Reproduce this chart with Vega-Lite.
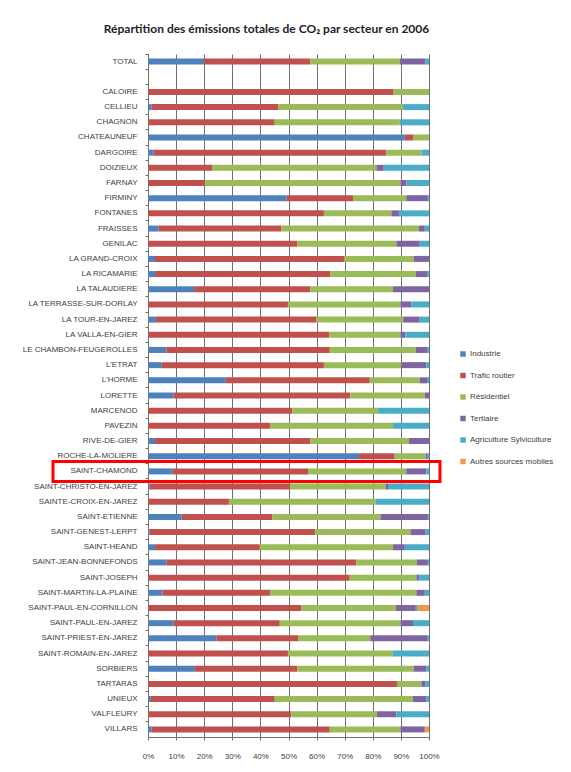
{
  "$schema": "https://vega.github.io/schema/vega-lite/v6.json",
  "autosize": {"type": "none"},
  "padding": {"left": 148, "top": 54, "right": 142, "bottom": 35},
  "width": 281,
  "height": 683,
  "background": "white",
  "title": {
    "text": "Répartition des émissions totales de CO₂ par secteur en 2006",
    "font": "Lato",
    "fontSize": 12,
    "fontWeight": "bold",
    "color": "#222222",
    "anchor": "middle",
    "frame": "group",
    "dx": -22,
    "offset": 18
  },
  "datasets": {
    "secteurs": [
      {"secteur": "Industrie", "rang": 1},
      {"secteur": "Trafic routier", "rang": 2},
      {"secteur": "Résidentiel", "rang": 3},
      {"secteur": "Tertiaire", "rang": 4},
      {"secteur": "Agriculture Sylviculture", "rang": 5},
      {"secteur": "Autres sources mobiles", "rang": 6}
    ],
    "emissions": [
      {"commune": "TOTAL", "Industrie": 20, "Trafic routier": 37.8, "Résidentiel": 31.8, "Tertiaire": 9.2, "Agriculture Sylviculture": 1.2, "Autres sources mobiles": 0},
      {"commune": "CALOIRE", "Industrie": 0, "Trafic routier": 87.2, "Résidentiel": 12.8, "Tertiaire": 0, "Agriculture Sylviculture": 0, "Autres sources mobiles": 0},
      {"commune": "CELLIEU", "Industrie": 1.3, "Trafic routier": 45, "Résidentiel": 44.5, "Tertiaire": 0, "Agriculture Sylviculture": 9.2, "Autres sources mobiles": 0},
      {"commune": "CHAGNON", "Industrie": 0, "Trafic routier": 45.1, "Résidentiel": 44.5, "Tertiaire": 0, "Agriculture Sylviculture": 10.4, "Autres sources mobiles": 0},
      {"commune": "CHATEAUNEUF", "Industrie": 91.4, "Trafic routier": 3.1, "Résidentiel": 5.5, "Tertiaire": 0, "Agriculture Sylviculture": 0, "Autres sources mobiles": 0},
      {"commune": "DARGOIRE", "Industrie": 2, "Trafic routier": 82.8, "Résidentiel": 12.5, "Tertiaire": 0, "Agriculture Sylviculture": 2.7, "Autres sources mobiles": 0},
      {"commune": "DOIZIEUX", "Industrie": 0, "Trafic routier": 23, "Résidentiel": 58.3, "Tertiaire": 2.6, "Agriculture Sylviculture": 16.1, "Autres sources mobiles": 0},
      {"commune": "FARNAY", "Industrie": 0, "Trafic routier": 20.3, "Résidentiel": 69.5, "Tertiaire": 2.2, "Agriculture Sylviculture": 8, "Autres sources mobiles": 0},
      {"commune": "FIRMINY", "Industrie": 49.3, "Trafic routier": 23.7, "Résidentiel": 18.9, "Tertiaire": 7.7, "Agriculture Sylviculture": 0.4, "Autres sources mobiles": 0},
      {"commune": "FONTANES", "Industrie": 0, "Trafic routier": 62.6, "Résidentiel": 24, "Tertiaire": 2.7, "Agriculture Sylviculture": 10.7, "Autres sources mobiles": 0},
      {"commune": "FRAISSES", "Industrie": 3.7, "Trafic routier": 43.8, "Résidentiel": 48.9, "Tertiaire": 2.1, "Agriculture Sylviculture": 1.5, "Autres sources mobiles": 0},
      {"commune": "GENILAC", "Industrie": 0, "Trafic routier": 53.1, "Résidentiel": 35.3, "Tertiaire": 8.3, "Agriculture Sylviculture": 3.3, "Autres sources mobiles": 0},
      {"commune": "LA GRAND-CROIX", "Industrie": 2.5, "Trafic routier": 67.5, "Résidentiel": 24.5, "Tertiaire": 5.5, "Agriculture Sylviculture": 0, "Autres sources mobiles": 0},
      {"commune": "LA RICAMARIE", "Industrie": 2.5, "Trafic routier": 62.4, "Résidentiel": 30.4, "Tertiaire": 4, "Agriculture Sylviculture": 0.7, "Autres sources mobiles": 0},
      {"commune": "LA TALAUDIERE", "Industrie": 16.4, "Trafic routier": 41.4, "Résidentiel": 29.4, "Tertiaire": 12.8, "Agriculture Sylviculture": 0, "Autres sources mobiles": 0},
      {"commune": "LA TERRASSE-SUR-DORLAY", "Industrie": 0, "Trafic routier": 49.8, "Résidentiel": 40, "Tertiaire": 3.9, "Agriculture Sylviculture": 6.3, "Autres sources mobiles": 0},
      {"commune": "LA TOUR-EN-JAREZ", "Industrie": 2.8, "Trafic routier": 57.2, "Résidentiel": 30.8, "Tertiaire": 5.9, "Agriculture Sylviculture": 3.3, "Autres sources mobiles": 0},
      {"commune": "LA VALLA-EN-GIER", "Industrie": 0, "Trafic routier": 64.5, "Résidentiel": 25.3, "Tertiaire": 1.8, "Agriculture Sylviculture": 8.4, "Autres sources mobiles": 0},
      {"commune": "LE CHAMBON-FEUGEROLLES", "Industrie": 6.6, "Trafic routier": 58.1, "Résidentiel": 30.6, "Tertiaire": 4, "Agriculture Sylviculture": 0.7, "Autres sources mobiles": 0},
      {"commune": "L'ETRAT", "Industrie": 4.9, "Trafic routier": 57.7, "Résidentiel": 27.6, "Tertiaire": 8.8, "Agriculture Sylviculture": 1, "Autres sources mobiles": 0},
      {"commune": "L'HORME", "Industrie": 27.7, "Trafic routier": 51.2, "Résidentiel": 17.8, "Tertiaire": 2.6, "Agriculture Sylviculture": 0.7, "Autres sources mobiles": 0},
      {"commune": "LORETTE", "Industrie": 9, "Trafic routier": 63, "Résidentiel": 26.5, "Tertiaire": 1.5, "Agriculture Sylviculture": 0, "Autres sources mobiles": 0},
      {"commune": "MARCENOD", "Industrie": 0, "Trafic routier": 51.4, "Résidentiel": 30.5, "Tertiaire": 0, "Agriculture Sylviculture": 18.1, "Autres sources mobiles": 0},
      {"commune": "PAVEZIN", "Industrie": 0, "Trafic routier": 43.4, "Résidentiel": 43.8, "Tertiaire": 0, "Agriculture Sylviculture": 12.8, "Autres sources mobiles": 0},
      {"commune": "RIVE-DE-GIER", "Industrie": 2.5, "Trafic routier": 55.3, "Résidentiel": 35.1, "Tertiaire": 7.1, "Agriculture Sylviculture": 0, "Autres sources mobiles": 0},
      {"commune": "ROCHE-LA-MOLIERE", "Industrie": 75.1, "Trafic routier": 12.7, "Résidentiel": 11, "Tertiaire": 0.5, "Agriculture Sylviculture": 0.7, "Autres sources mobiles": 0},
      {"commune": "SAINT-CHAMOND", "Industrie": 8.8, "Trafic routier": 48.2, "Résidentiel": 34.9, "Tertiaire": 7.1, "Agriculture Sylviculture": 1, "Autres sources mobiles": 0},
      {"commune": "SAINT-CHRISTO-EN-JAREZ", "Industrie": 0.5, "Trafic routier": 50, "Résidentiel": 34.1, "Tertiaire": 0.8, "Agriculture Sylviculture": 14.6, "Autres sources mobiles": 0},
      {"commune": "SAINTE-CROIX-EN-JAREZ", "Industrie": 0, "Trafic routier": 28.8, "Résidentiel": 52.2, "Tertiaire": 0, "Agriculture Sylviculture": 19, "Autres sources mobiles": 0},
      {"commune": "SAINT-ETIENNE", "Industrie": 12, "Trafic routier": 32.3, "Résidentiel": 38.4, "Tertiaire": 16.9, "Agriculture Sylviculture": 0.4, "Autres sources mobiles": 0},
      {"commune": "SAINT-GENEST-LERPT", "Industrie": 0.5, "Trafic routier": 58.9, "Résidentiel": 34, "Tertiaire": 5.4, "Agriculture Sylviculture": 1.2, "Autres sources mobiles": 0},
      {"commune": "SAINT-HEAND", "Industrie": 2.5, "Trafic routier": 37.3, "Résidentiel": 47.4, "Tertiaire": 4.2, "Agriculture Sylviculture": 8.6, "Autres sources mobiles": 0},
      {"commune": "SAINT-JEAN-BONNEFONDS", "Industrie": 6.6, "Trafic routier": 67.6, "Résidentiel": 21.5, "Tertiaire": 3.9, "Agriculture Sylviculture": 0.4, "Autres sources mobiles": 0},
      {"commune": "SAINT-JOSEPH", "Industrie": 0, "Trafic routier": 71.8, "Résidentiel": 23.7, "Tertiaire": 1, "Agriculture Sylviculture": 3.5, "Autres sources mobiles": 0},
      {"commune": "SAINT-MARTIN-LA-PLAINE", "Industrie": 5.2, "Trafic routier": 38.2, "Résidentiel": 52.1, "Tertiaire": 3, "Agriculture Sylviculture": 1.5, "Autres sources mobiles": 0},
      {"commune": "SAINT-PAUL-EN-CORNILLON", "Industrie": 0, "Trafic routier": 54.6, "Résidentiel": 33.6, "Tertiaire": 7.1, "Agriculture Sylviculture": 0.7, "Autres sources mobiles": 4},
      {"commune": "SAINT-PAUL-EN-JAREZ", "Industrie": 9, "Trafic routier": 37.9, "Résidentiel": 42.9, "Tertiaire": 4.5, "Agriculture Sylviculture": 5.7, "Autres sources mobiles": 0},
      {"commune": "SAINT-PRIEST-EN-JAREZ", "Industrie": 24.4, "Trafic routier": 29, "Résidentiel": 25.7, "Tertiaire": 20.2, "Agriculture Sylviculture": 0.7, "Autres sources mobiles": 0},
      {"commune": "SAINT-ROMAIN-EN-JAREZ", "Industrie": 0, "Trafic routier": 49.8, "Résidentiel": 37.2, "Tertiaire": 0, "Agriculture Sylviculture": 13, "Autres sources mobiles": 0},
      {"commune": "SORBIERS", "Industrie": 16.7, "Trafic routier": 36.4, "Résidentiel": 41.4, "Tertiaire": 4.5, "Agriculture Sylviculture": 1, "Autres sources mobiles": 0},
      {"commune": "TARTARAS", "Industrie": 0, "Trafic routier": 88.6, "Résidentiel": 8.7, "Tertiaire": 1.5, "Agriculture Sylviculture": 1.2, "Autres sources mobiles": 0},
      {"commune": "UNIEUX", "Industrie": 1, "Trafic routier": 44.1, "Résidentiel": 49.2, "Tertiaire": 4.7, "Agriculture Sylviculture": 1, "Autres sources mobiles": 0},
      {"commune": "VALFLEURY", "Industrie": 0, "Trafic routier": 51, "Résidentiel": 30.5, "Tertiaire": 6.9, "Agriculture Sylviculture": 11.6, "Autres sources mobiles": 0},
      {"commune": "VILLARS", "Industrie": 1.3, "Trafic routier": 63.4, "Résidentiel": 25.1, "Tertiaire": 8.7, "Agriculture Sylviculture": 0, "Autres sources mobiles": 1.5}
    ]
  },
  "config": {
    "view": {"stroke": null},
    "axis": {"labelFont": "Liberation Sans", "labelFontSize": 8, "labelColor": "#404040", "domainColor": "#6f6f6f", "tickColor": "#6f6f6f", "domainWidth": 1, "tickWidth": 1},
    "axisX": {"grid": true, "gridColor": "#6f6f6f", "gridOpacity": 1, "gridWidth": 1, "labelOverlap": false, "labelFlush": false, "labelBound": false, "tickSize": 3, "labelPadding": 12},
    "legend": {"labelFont": "Liberation Sans", "labelFontSize": 8, "labelColor": "#404040"}
  },
  "layer": [
    {
      "data": {"name": "emissions"},
      "transform": [
        {"fold": ["Industrie", "Trafic routier", "Résidentiel", "Tertiaire", "Agriculture Sylviculture", "Autres sources mobiles"], "as": ["secteur", "part"]},
        {"lookup": "secteur", "from": {"data": {"name": "secteurs"}, "key": "secteur", "fields": ["rang"]}}
      ],
      "mark": {"type": "bar", "size": 6},
      "encoding": {
        "y": {
          "field": "commune",
          "type": "nominal",
          "scale": {"domain": ["TOTAL", " ", "CALOIRE", "CELLIEU", "CHAGNON", "CHATEAUNEUF", "DARGOIRE", "DOIZIEUX", "FARNAY", "FIRMINY", "FONTANES", "FRAISSES", "GENILAC", "LA GRAND-CROIX", "LA RICAMARIE", "LA TALAUDIERE", "LA TERRASSE-SUR-DORLAY", "LA TOUR-EN-JAREZ", "LA VALLA-EN-GIER", "LE CHAMBON-FEUGEROLLES", "L'ETRAT", "L'HORME", "LORETTE", "MARCENOD", "PAVEZIN", "RIVE-DE-GIER", "ROCHE-LA-MOLIERE", "SAINT-CHAMOND", "SAINT-CHRISTO-EN-JAREZ", "SAINTE-CROIX-EN-JAREZ", "SAINT-ETIENNE", "SAINT-GENEST-LERPT", "SAINT-HEAND", "SAINT-JEAN-BONNEFONDS", "SAINT-JOSEPH", "SAINT-MARTIN-LA-PLAINE", "SAINT-PAUL-EN-CORNILLON", "SAINT-PAUL-EN-JAREZ", "SAINT-PRIEST-EN-JAREZ", "SAINT-ROMAIN-EN-JAREZ", "SORBIERS", "TARTARAS", "UNIEUX", "VALFLEURY", "VILLARS"], "paddingInner": 0, "paddingOuter": 0},
          "axis": {"title": null, "labelPadding": 8, "tickSize": 3, "bandPosition": 0, "grid": false}
        },
        "x": {
          "field": "part",
          "type": "quantitative",
          "stack": "normalize",
          "scale": {"domain": [0, 1], "nice": false},
          "axis": {"title": null, "values": [0, 0.1, 0.2, 0.3, 0.4, 0.5, 0.6, 0.7, 0.8, 0.9, 1], "format": ".0%", "grid": true, "gridColor": "#6f6f6f", "gridOpacity": 1, "labelOverlap": false, "labelFlush": false}
        },
        "color": {
          "field": "secteur",
          "type": "nominal",
          "scale": {
            "domain": ["Industrie", "Trafic routier", "Résidentiel", "Tertiaire", "Agriculture Sylviculture", "Autres sources mobiles"],
            "range": ["#4F81BD", "#C0504D", "#9BBB59", "#8064A2", "#4BACC6", "#F79646"]
          },
          "legend": {"orient": "none", "legendX": 311, "legendY": 296, "title": null, "symbolType": "square", "symbolSize": 30, "symbolStrokeWidth": 0, "rowPadding": 13.5, "labelOffset": 3}
        },
        "order": {"field": "rang", "type": "quantitative"}
      }
    },
    {
      "data": {"values": [{"commune": "SAINT-CHAMOND", "debut": -0.338, "fin": 1.039}]},
      "mark": {"type": "bar", "size": 20, "fill": "transparent", "stroke": "#FF0000", "strokeWidth": 3, "clip": false},
      "encoding": {
        "y": {"field": "commune", "type": "nominal"},
        "x": {
          "field": "debut",
          "type": "quantitative",
          "scale": {"domain": [0, 1], "nice": false},
          "axis": {"title": null, "values": [0, 0.1, 0.2, 0.3, 0.4, 0.5, 0.6, 0.7, 0.8, 0.9, 1], "format": ".0%", "grid": true, "gridColor": "#6f6f6f", "gridOpacity": 1, "labelOverlap": false, "labelFlush": false}
        },
        "x2": {"field": "fin"}
      }
    }
  ]
}
